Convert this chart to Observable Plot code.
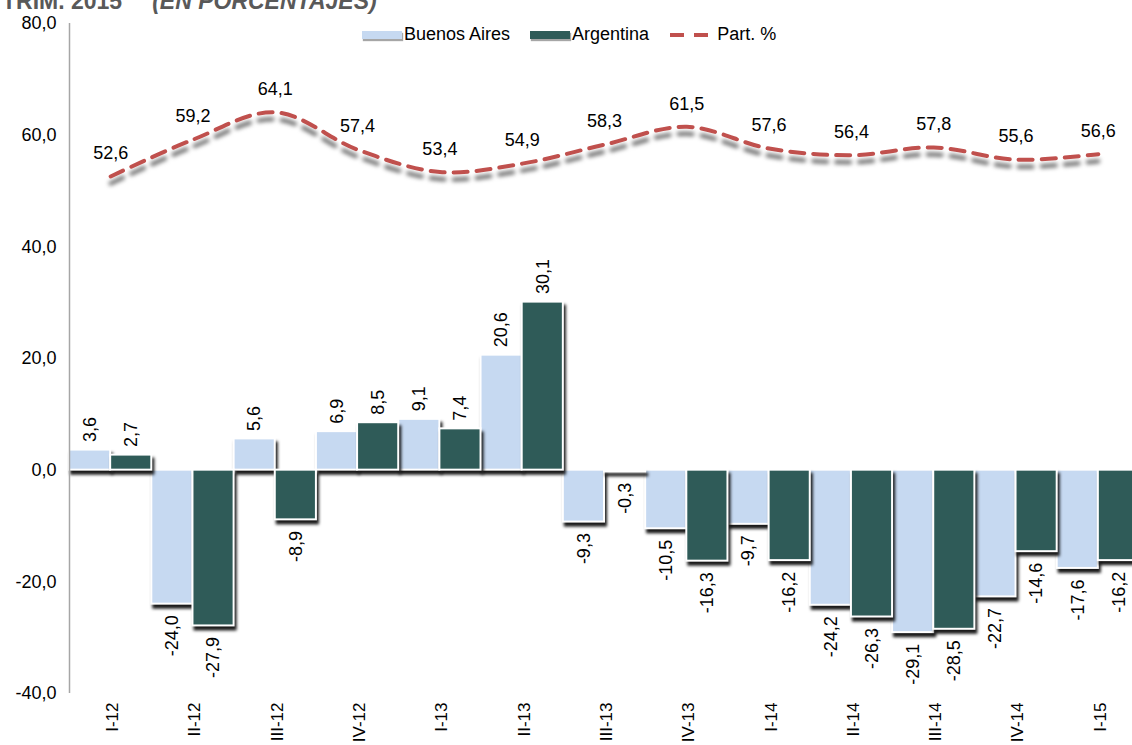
<!DOCTYPE html>
<html>
<head>
<meta charset="utf-8">
<script src="https://cdn.jsdelivr.net/npm/d3@7"></script>
<script src="https://cdn.jsdelivr.net/npm/@observablehq/plot@0.6"></script>
<style>
  html, body { margin: 0; padding: 0; background: #fff; overflow: hidden; }
  #wrap { position: relative; width: 1132px; height: 745px; overflow: hidden; }
  #title { position: absolute; left: 2px; top: -10px; font: italic bold 23px "Liberation Sans", Arial, sans-serif; color: #595959; white-space: nowrap; line-height: 23px; }
  #title span { font-style: normal; margin-right: 30px; }
  #legend { position: absolute; left: 362px; top: 24px; display: flex; align-items: center; font: 18px "Liberation Sans", Arial, sans-serif; color: #000; }
  #legend .item { display: flex; align-items: center; margin-right: 20px; }
  #legend .sw { width: 40px; height: 8px; margin-right: 2px; box-shadow: 1px 2px 1px rgba(0,0,0,0.35); }
  #legend svg { margin-right: 6px; }
</style>
</head>
<body>
<div id="wrap">
  <div id="title"><span>TRIM. 2015</span>(EN PORCENTAJES)</div>
  <div id="chart"></div>
  <div id="legend"></div>
</div>
<script>
// ---- data ----
const quarters = ["I-12","II-12","III-12","IV-12","I-13","II-13","III-13","IV-13","I-14","II-14","III-14","IV-14","I-15"];
const buenosAires = [3.6, -24.0, 5.6, 6.9, 9.1, 20.6, -9.3, -10.5, -9.7, -24.2, -29.1, -22.7, -17.6];
const argentina = [2.7, -27.9, -8.9, 8.5, 7.4, 30.1, -0.3, -16.3, -16.2, -26.3, -28.5, -14.6, -16.2];
const participacion = [52.6, 59.2, 64.1, 57.4, 53.4, 54.9, 58.3, 61.5, 57.6, 56.4, 57.8, 55.6, 56.6];
const yTicks = [-40, -20, 0, 20, 40, 60, 80];
const seriesNames = ["Buenos Aires", "Argentina", "Part. %"];
const colors = { ba: "#C6D9F1", ar: "#2F5B58", part: "#C0504D" };

const rows = quarters.map((q, i) => ({ q, i, ba: buenosAires[i], ar: argentina[i], part: participacion[i] }));
const fmt = v => v.toFixed(1).replace(".", ",");
const font = "Liberation Sans, Arial, sans-serif";

const chart = Plot.plot({
  width: 1132,
  height: 745,
  marginLeft: 69,
  marginRight: -7,
  marginTop: 23,
  marginBottom: 52,
  style: { fontFamily: font, fontSize: "17px", color: "#000", background: "transparent" },
  x: { type: "linear", domain: [0, quarters.length] },
  y: { domain: [-40, 80] },
  marks: [
    Plot.ruleY([0], { stroke: "#a6a6a6", strokeWidth: 1.5 }),
    Plot.rectY(rows, { x1: d => d.i, x2: d => d.i + 0.5, y: "ba", fill: colors.ba, stroke: "#fff", strokeWidth: 2 }),
    Plot.rectY(rows, { x1: d => d.i + 0.5, x2: d => d.i + 1, y: "ar", fill: colors.ar, stroke: "#fff", strokeWidth: 2 }),
    Plot.ruleX([0], { stroke: "#a6a6a6", strokeWidth: 1.5 }),
    Plot.line(rows, { x: d => d.i + 0.5, y: "part", curve: "catmull-rom", stroke: colors.part, strokeWidth: 4, strokeDasharray: "14,9" }),
    Plot.text(rows, { x: d => d.i + 0.5, y: "part", text: d => fmt(d.part), dy: -23, fontSize: 18, fill: "#000" }),
    // bar labels
    Plot.text(rows, { filter: d => d.ba >= 0, x: d => d.i + 0.25, y: "ba", text: d => fmt(d.ba), rotate: -90, textAnchor: "start", dy: -8, fontSize: 18, fill: "#000" }),
    Plot.text(rows, { filter: d => d.ba < 0, x: d => d.i + 0.25, y: "ba", text: d => fmt(d.ba), rotate: -90, textAnchor: "end", dy: 11, fontSize: 18, fill: "#000" }),
    Plot.text(rows, { filter: d => d.ar >= 0, x: d => d.i + 0.75, y: "ar", text: d => fmt(d.ar), rotate: -90, textAnchor: "start", dy: -8, fontSize: 18, fill: "#000" }),
    Plot.text(rows, { filter: d => d.ar < 0, x: d => d.i + 0.75, y: "ar", text: d => fmt(d.ar), rotate: -90, textAnchor: "end", dy: 11, fontSize: 18, fill: "#000" }),
    Plot.axisY(yTicks, { tickSize: 0, tickPadding: 13, tickFormat: fmt, fontSize: 18, label: null }),
    Plot.axisX(rows.map(d => d.i + 0.5), { tickSize: 0, tickPadding: 9, tickRotate: -90, tickFormat: v => quarters[Math.floor(v)], fontSize: 17, dx: 2, label: null })
  ]
});
document.getElementById("chart").appendChild(chart);

// shadows like the original
chart.querySelectorAll('g[aria-label="rect"]').forEach(g => g.style.filter = "drop-shadow(2px 4px 1.5px rgba(0,0,0,0.9))");
chart.querySelectorAll('g[aria-label="line"]').forEach(g => g.style.filter = "drop-shadow(0px 7px 2px rgba(0,0,0,0.6))");

// legend
const legend = document.getElementById("legend");
[["ba", seriesNames[0]], ["ar", seriesNames[1]]].forEach(([k, name]) => {
  const it = document.createElement("div"); it.className = "item";
  const sw = document.createElement("div"); sw.className = "sw"; sw.style.background = colors[k];
  const t = document.createElement("span"); t.textContent = name;
  it.append(sw, t); legend.append(it);
});
const it3 = document.createElement("div"); it3.className = "item";
it3.innerHTML = `<svg width="42" height="8"><line x1="1" y1="4" x2="41" y2="4" stroke="${colors.part}" stroke-width="4" stroke-dasharray="14,10"/></svg><span>${seriesNames[2]}</span>`;
legend.append(it3);
</script>
</body>
</html>
